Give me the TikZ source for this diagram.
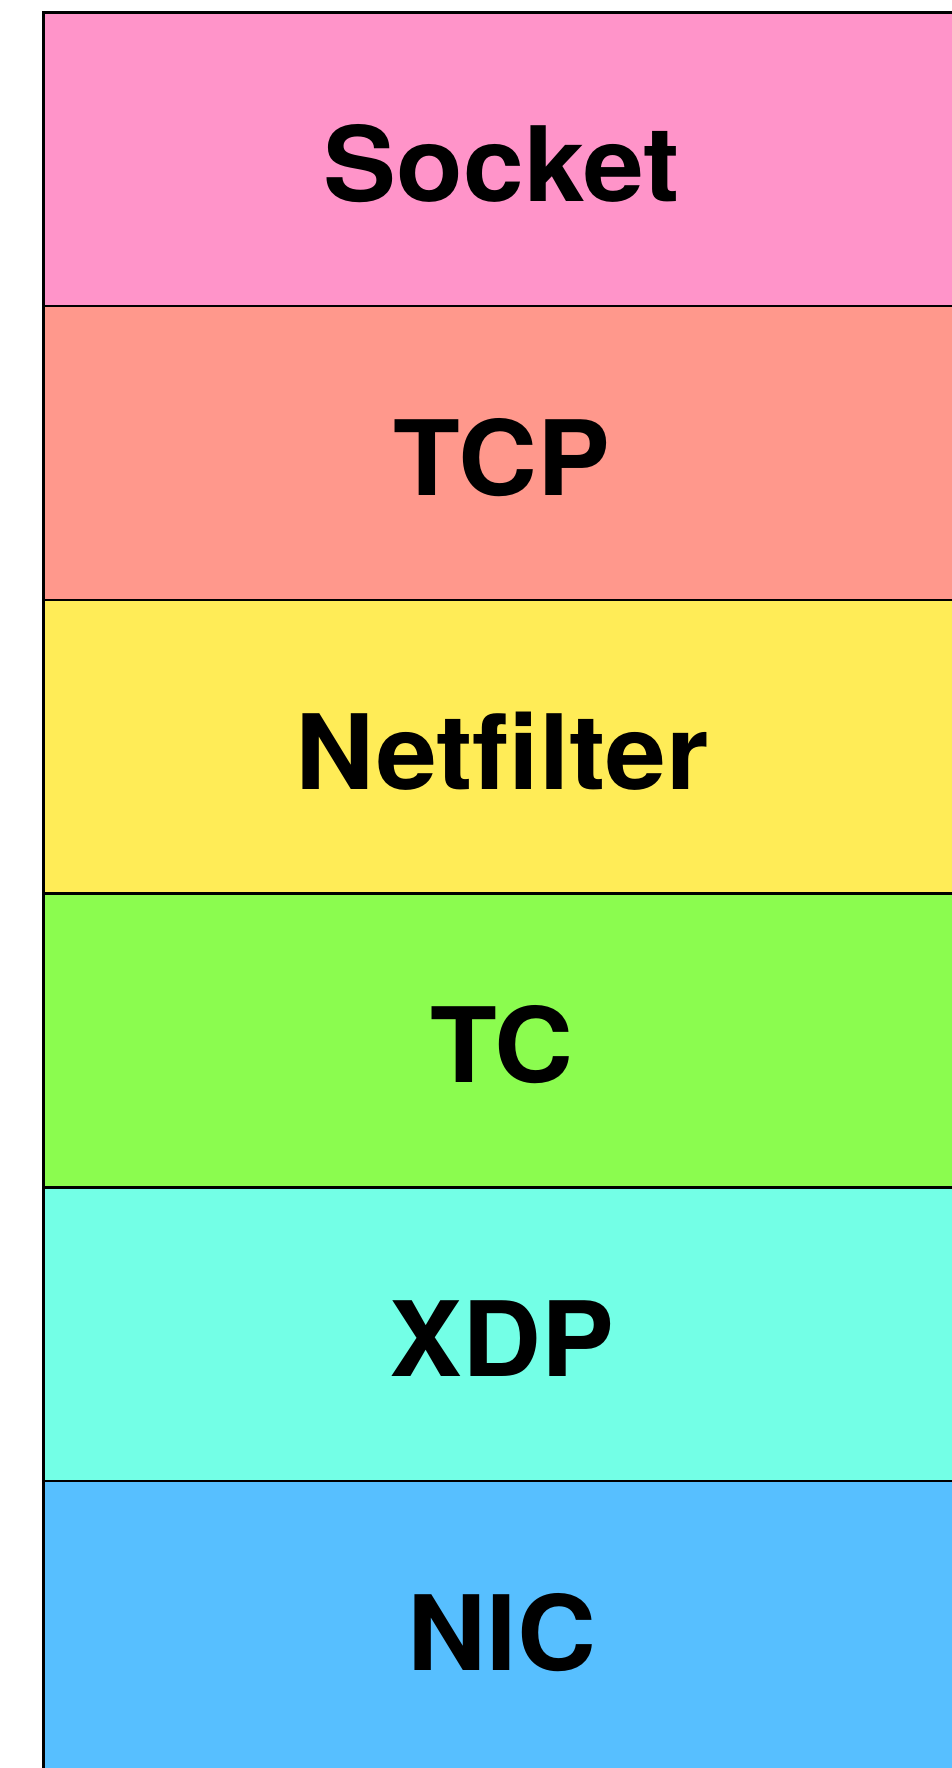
\documentclass[tikz,border=0pt]{standalone}
\usepackage{fontspec}
\setmainfont{TeX Gyre Heros}[FakeStretch=1.05]
\definecolor{cSocket}{HTML}{FF94C9}
\definecolor{cTCP}{HTML}{FF988C}
\definecolor{cNet}{HTML}{FFEC57}
\definecolor{cTC}{HTML}{8BFC4F}
\definecolor{cXDP}{HTML}{73FFE6}
\definecolor{cNIC}{HTML}{57BFFF}
\tikzset{
  layer/.style={draw=black, line width=2.5pt},
  lab/.style={font=\fontsize{104}{104}\selectfont\bfseries, anchor=base, inner sep=0pt}
}
\begin{document}
\begin{tikzpicture}[x=1pt,y=-1pt]
\useasboundingbox (0,0) rectangle (952,1768);
\fill[white] (0,0) rectangle (952,1768);
\foreach \i/\c in {0/cSocket,1/cTCP,2/cNet,3/cTC,4/cXDP,5/cNIC}{
  \fill[\c] (43.5,12.5+293.7*\i) rectangle (960,12.5+293.7*\i+293.7);
}
\foreach \i in {0,...,5}{
  \draw[layer] (43.5,12.5+293.7*\i) -- (960,12.5+293.7*\i);
}
\draw[layer] (43.5,11.25) -- (43.5,1780);
\node[lab] (socket) at (502,159.3+42.5) {Socket};
\node[lab] (tcp) at (502,453+42.5) {TCP};
\node[lab] (netfilter) at (502,746.7+42.5) {Netfilter};
\node[lab] (tc) at (502,1040.4+42.5) {TC};
\node[lab] (xdp) at (502,1334.1+42.5) {XDP};
\node[lab] (nic) at (502,1627.8+42.5) {NIC};
\end{tikzpicture}
\end{document}
